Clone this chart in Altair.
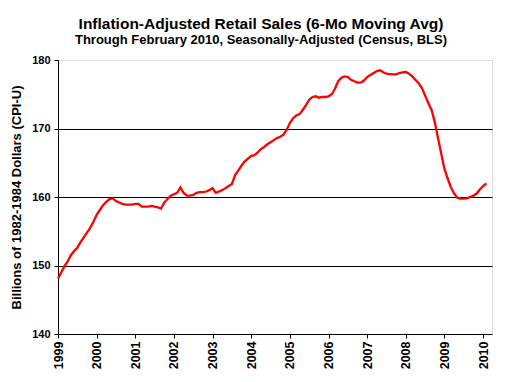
import altair as alt
import pandas as pd

# Monthly values, Jan 1999 .. Feb 2010 (billions of 1982-84 dollars)
v1999 = [148.1, 149.0, 149.9, 150.6, 151.5, 152.1, 152.6, 153.4, 154.1, 154.8, 155.5, 156.4]
v2000 = [157.4, 158.1, 158.8, 159.3, 159.7, 159.8, 159.4, 159.2, 159.0, 158.9, 158.9, 158.9]
v2001 = [159.0, 159.0, 158.6, 158.6, 158.6, 158.7, 158.6, 158.5, 158.3, 159.2, 159.7, 160.2]
v2002 = [160.4, 160.6, 161.4, 160.6, 160.2, 160.2, 160.3, 160.6, 160.7, 160.7, 160.8, 161.0]
v2003 = [161.3, 160.6, 160.8, 161.0, 161.3, 161.6, 161.9, 163.2, 163.9, 164.6, 165.2, 165.6]
v2004 = [166.0, 166.1, 166.5, 167.0, 167.3, 167.7, 168.0, 168.3, 168.6, 168.8, 169.1, 169.8]
v2005 = [170.8, 171.5, 171.9, 172.1, 172.7, 173.4, 174.2, 174.6, 174.7, 174.5, 174.6, 174.6]
v2006 = [174.7, 175.0, 175.8, 176.9, 177.4, 177.6, 177.5, 177.1, 176.9, 176.7, 176.7, 177.0]
v2007 = [177.5, 177.8, 178.1, 178.4, 178.5, 178.2, 178.0, 177.95, 177.9, 177.9, 178.1, 178.2]
v2008 = [178.25, 178.0, 177.6, 177.1, 176.6, 175.9, 174.8, 173.7, 172.7, 170.9, 168.6, 166.3]
v2009 = [164.1, 162.7, 161.4, 160.5, 159.9, 159.75, 159.75, 159.8, 160.0, 160.2, 160.5, 161.1]
v2010 = [161.6, 162.0]

values = v1999 + v2000 + v2001 + v2002 + v2003 + v2004 + v2005 + v2006 + v2007 + v2008 + v2009 + v2010
years = [1999 + i / 12 for i in range(len(values))]
year_ticks = list(range(1999, 2011))
y_ticks = [140, 150, 160, 170, 180]

df = pd.DataFrame({"t": years, "sales": values})

FONT = "Liberation Sans"

chart = alt.Chart(df).mark_line(color="#FF0000", strokeWidth=2.3).encode(
    x=alt.X(
        "t:Q",
        scale=alt.Scale(domain=[1999, 2010.23], nice=False, zero=False),
        axis=alt.Axis(
            values=year_ticks, format="d", labelAngle=270, grid=False,
            labelFont=FONT, labelFontSize=12.5, labelFontWeight="bold", labelColor="black",
            tickSize=4, tickColor="black", domainColor="black", labelPadding=3,
            title=None, labelFlush=False, labelOverlap=False,
        ),
    ),
    y=alt.Y(
        "sales:Q",
        scale=alt.Scale(domain=[140, 180], nice=False, zero=False),
        axis=alt.Axis(
            values=y_ticks, format="d", grid=True, gridColor="black",
            gridOpacity=alt.condition("datum.value == 180 || datum.value == 140", alt.value(0), alt.value(1)),
            labelFont=FONT, labelFontSize=11, labelFontWeight="bold", labelColor="black",
            tickSize=4, tickColor="black", domainColor="black", labelPadding=4,
            title="Billions of 1982-1984 Dollars (CPI-U)",
            titleFont=FONT, titleFontSize=13, titleFontWeight="bold", titleColor="black",
            titlePadding=8, labelFlush=False,
        ),
    ),
).properties(
    width=434,
    height=274,
    autosize=alt.AutoSizeParams(type="none"),
    padding={"left": 50, "top": 52, "right": 7, "bottom": 40},
    title=alt.TitleParams(
        text="Inflation-Adjusted Retail Sales (6-Mo Moving Avg)",
        subtitle="Through February 2010, Seasonally-Adjusted (Census, BLS)",
        font=FONT, fontSize=15.5, fontWeight="bold", color="black",
        subtitleFont=FONT, subtitleFontSize=13, subtitleFontWeight="bold", subtitleColor="black",
        anchor="middle", frame="group", dx=-14, offset=7, subtitlePadding=2,
    ),
).configure_view(
    stroke="#808080", strokeWidth=1
).configure(background="white")

chart.save("out.html", embed_options={"renderer": "svg", "actions": False})
